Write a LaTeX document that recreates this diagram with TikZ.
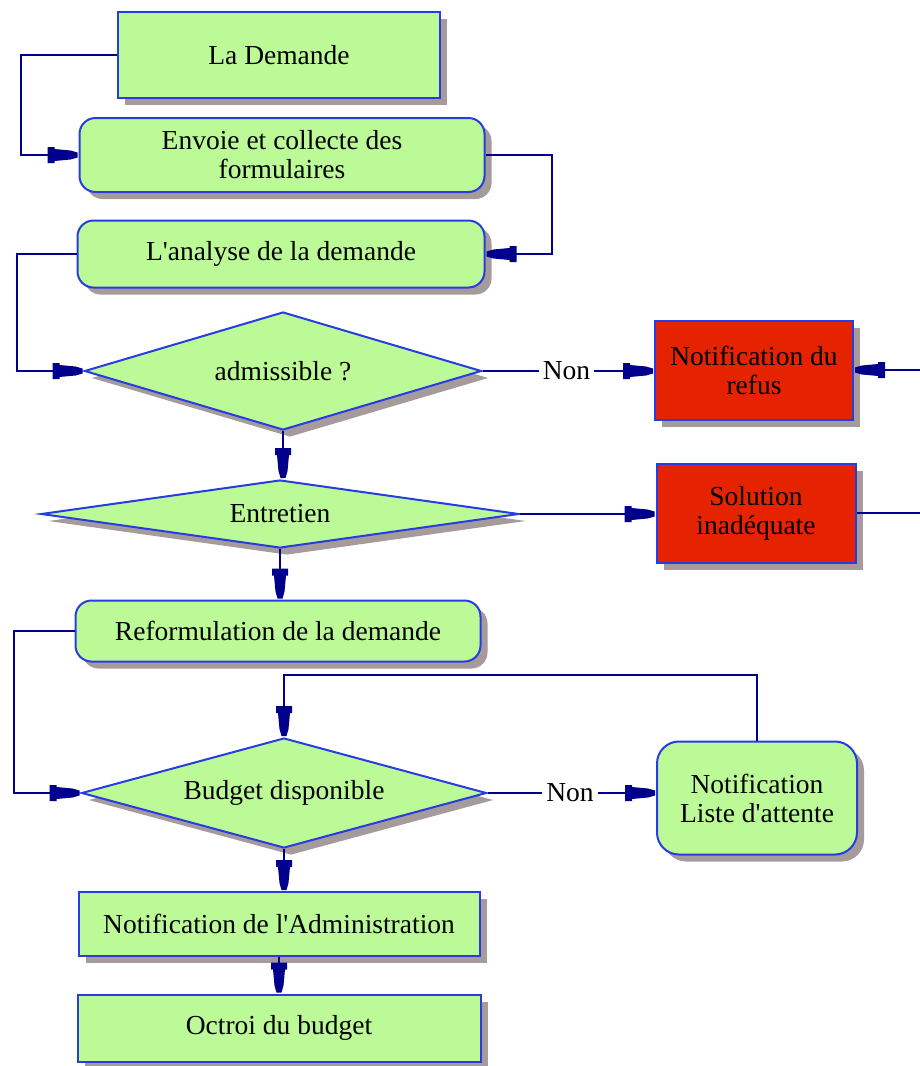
\documentclass[tikz,border=0pt]{standalone}
\usepackage{fontspec}
\setmainfont{Liberation Serif}
\usetikzlibrary{shapes.geometric,shadows,arrows.meta}
\definecolor{fillg}{RGB}{187,250,150}
\definecolor{bord}{RGB}{40,60,225}
\definecolor{conc}{RGB}{0,0,140}
\definecolor{redf}{RGB}{230,35,0}
\definecolor{shad}{RGB}{165,155,155}
\pgfdeclarearrow{
  name=Plug,
  setup code={
    \pgfarrowssettipend{0pt}
    \pgfarrowssetlineend{-12pt}
    \pgfarrowssetvisualbackend{-30pt}
    \pgfarrowssetbackend{-30pt}
    \pgfarrowshullpoint{-30pt}{8pt}
    \pgfarrowshullpoint{-30pt}{-8pt}
    \pgfarrowshullpoint{0pt}{2.5pt}
    \pgfarrowshullpoint{0pt}{-2.5pt}
  },
  drawing code={
    \pgfpathmoveto{\pgfqpoint{-30pt}{8pt}}
    \pgfpathlineto{\pgfqpoint{-23pt}{8pt}}
    \pgfpathlineto{\pgfqpoint{-23pt}{6pt}}
    \pgfpathlineto{\pgfqpoint{-7pt}{4.5pt}}
    \pgfpathlineto{\pgfqpoint{0pt}{2.5pt}}
    \pgfpathlineto{\pgfqpoint{0pt}{-2.5pt}}
    \pgfpathlineto{\pgfqpoint{-7pt}{-4.5pt}}
    \pgfpathlineto{\pgfqpoint{-23pt}{-6pt}}
    \pgfpathlineto{\pgfqpoint{-23pt}{-8pt}}
    \pgfpathlineto{\pgfqpoint{-30pt}{-8pt}}
    \pgfpathclose
    \pgfusepathqfill
  }
}
\begin{document}
\begin{tikzpicture}[x=1pt,y=-1pt,
  font=\fontsize{27.5}{29}\selectfont,
  box/.style={draw=bord, line width=2pt, fill=fillg, inner sep=0pt, align=center,
    drop shadow={shadow xshift=7pt, shadow yshift=-7pt, fill=shad, opacity=1}},
  rbox/.style={box, rounded corners=16pt},
  redbox/.style={box, fill=redf},
  dia/.style={box, diamond},
  conn/.style={draw=conc, line width=2pt, -{Plug}, shorten >=1pt},
  lab/.style={fill=white, inner sep=4pt}
]
\useasboundingbox (0,0) rectangle (920,1066);
\fill[white] (0,0) rectangle (920,1066);

\node[box, minimum width=322, minimum height=86] (dem) at (279,55) {La Demande};
\node[rbox, minimum width=405, minimum height=74] (env) at (282,155) {Envoie et collecte des\\formulaires};
\node[rbox, minimum width=407, minimum height=67] (ana) at (281,254) {L\textquotesingle analyse de la demande};
\node[dia, aspect=3.364, minimum width=397, minimum height=118] (adm) at (283,371) {admissible ?};
\node[dia, aspect=7.03, minimum width=478, minimum height=68] (ent) at (280,514) {Entretien};
\node[redbox, minimum width=198, minimum height=99] (ref) at (754,370) {Notification du\\refus};
\node[redbox, minimum width=199, minimum height=99] (sol) at (756,513) {Solution\\inadéquate};
\node[rbox, minimum width=405, minimum height=61] (rf) at (278,631) {Reformulation de la demande};
\node[dia, aspect=3.68, minimum width=405, minimum height=110] (bud) at (284,793) {Budget disponible};
\node[rbox, rounded corners=22pt, minimum width=200, minimum height=113] (att) at (757,798) {Notification\\Liste d\textquotesingle attente};
\node[box, minimum width=401, minimum height=64] (nad) at (279,924) {Notification de l\textquotesingle Administration};
\node[box, minimum width=403, minimum height=67] (oct) at (279,1028) {Octroi du budget};

\draw[conn] (dem.west) -- ++(-96,0) |- (env.west);
\draw[conn] (env.east) -- ++(66,0) |- (ana.east);
\draw[conn] (ana.west) -- ++(-60,0) |- (adm.west);
\draw[conn] (adm.east) -- node[lab, pos=0.49]{Non} (adm.east -| ref.west);
\draw[conn] (adm.south) -- (adm.south |- ent.north);
\draw[conn] (ent.east) -- (ent.east -| sol.west);
\draw[conn] (ent.south) -- (ent.south |- rf.north);
\begin{scope}
\clip (0,0) rectangle (920,1066);
\draw[conn] (sol.east) -- ++(90,0) |- (ref.east);
\end{scope}
\draw[conn] (rf.west) -- ++(-61,0) |- (bud.west);
\draw[conn] (bud.east) -- node[lab, pos=0.49]{Non} (bud.east -| att.west);
\draw[conn] (att.north) -- ++(0,-66) -| (bud.north);
\draw[conn] (bud.south) -- (bud.south |- nad.north);
\draw[conn] (nad.south) -- (nad.south |- oct.north);
\end{tikzpicture}
\end{document}
